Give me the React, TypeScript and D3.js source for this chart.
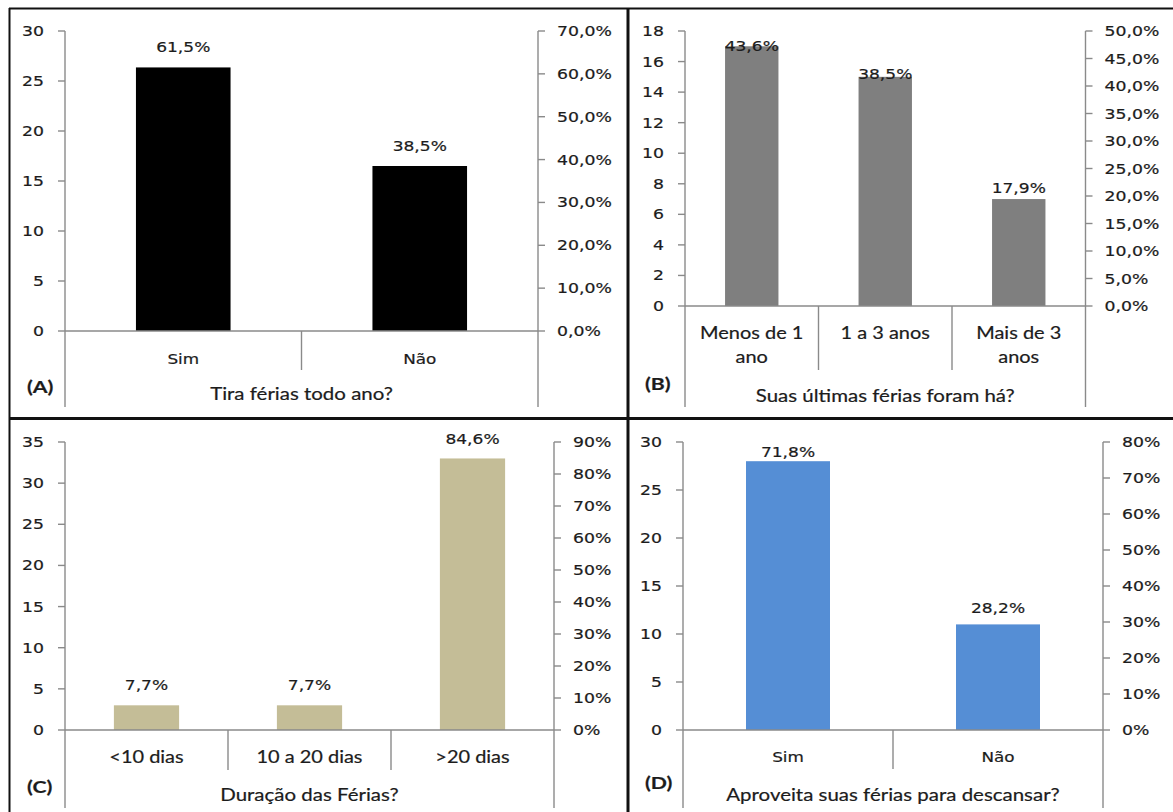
import React from "react";
import * as d3 from "d3";

// Survey results: holiday habits (n = 39)
const catsA = ["Sim", "Não"];
const countsA = [24, 15];
const pctA = [61.5, 38.5];

const catsB = [["Menos de 1", "ano"], ["1 a 3 anos"], ["Mais de 3", "anos"]];
const countsB = [17, 15, 7];
const pctB = [43.6, 38.5, 17.9];

const catsC = [["<10 dias"], ["10 a 20 dias"], [">20 dias"]];
const countsC = [3, 3, 33];
const pctC = [7.7, 7.7, 84.6];

const catsD = ["Sim", "Não"];
const countsD = [28, 11];
const pctD = [71.8, 28.2];

const ptBR = d3.formatLocale({
  decimal: ",",
  thousands: ".",
  grouping: [3],
  currency: ["R$", ""],
});

const SANS = "'DejaVu Sans', Verdana, sans-serif";
const HUMAN = "Lato, 'Open Sans', sans-serif";
const AXIS = "#8a8a8a";
const INK = "#1c1c1c";

type Panel = {
  tag: string;
  title: string;
  cats: string[][];
  counts: number[];
  pct: number[];
  barOnPct: boolean;
  color: string;
  left: number;
  right: number;
  top: number;
  bottom: number;
  axisEnd: number;
  dividerEnd: number;
  catY: number[];
  titleY: number;
  tagX: number;
  tagY: number;
  leftMax: number;
  leftStep: number;
  rightMax: number;
  rightStep: number;
  rightFmt: string;
  catFont: "sans" | "human";
};

const panels: Panel[] = [
  {
    tag: "(A)", title: "Tira férias todo ano?",
    cats: catsA.map((c) => [c]), counts: countsA, pct: pctA, barOnPct: true, color: "#000000",
    left: 65, right: 538, top: 31, bottom: 331, axisEnd: 407, dividerEnd: 370,
    catY: [364], titleY: 400, tagX: 27, tagY: 393,
    leftMax: 30, leftStep: 5, rightMax: 0.7, rightStep: 0.1, rightFmt: ".1%", catFont: "sans",
  },
  {
    tag: "(B)", title: "Suas últimas  férias foram há?",
    cats: catsB, counts: countsB, pct: pctB, barOnPct: false, color: "#7f7f7f",
    left: 685, right: 1085.5, top: 31, bottom: 306, axisEnd: 407, dividerEnd: 370,
    catY: [339, 363], titleY: 401.5, tagX: 645, tagY: 390,
    leftMax: 18, leftStep: 2, rightMax: 0.5, rightStep: 0.05, rightFmt: ".1%", catFont: "human",
  },
  {
    tag: "(C)", title: "Duração das Férias?",
    cats: catsC, counts: countsC, pct: pctC, barOnPct: false, color: "#c4bd97",
    left: 65, right: 554, top: 442, bottom: 730, axisEnd: 808, dividerEnd: 770,
    catY: [763], titleY: 801, tagX: 27, tagY: 793,
    leftMax: 35, leftStep: 5, rightMax: 0.9, rightStep: 0.1, rightFmt: ".0%", catFont: "human",
  },
  {
    tag: "(D)", title: "Aproveita suas férias para descansar?",
    cats: catsD.map((c) => [c]), counts: countsD, pct: pctD, barOnPct: false, color: "#558ed5",
    left: 683, right: 1103, top: 442, bottom: 730, axisEnd: 808, dividerEnd: 769,
    catY: [762], titleY: 801, tagX: 645, tagY: 789,
    leftMax: 30, leftStep: 5, rightMax: 0.8, rightStep: 0.1, rightFmt: ".0%", catFont: "sans",
  },
];

function Txt(props: {
  x: number; y: number; sx?: number; anchor?: string; family?: string;
  size?: number; weight?: string | number; heavy?: number; children: React.ReactNode;
}) {
  const { x, y, sx = 1, anchor = "start", family = SANS, size = 13.5, weight = "normal", heavy = 0.2, children } = props;
  return (
    <text
      transform={`translate(${x},${y}) scale(${sx},1)`}
      textAnchor={anchor}
      fontFamily={family}
      fontSize={size}
      fontWeight={weight}
      fill={INK}
      stroke={INK}
      strokeWidth={heavy}
    >
      {children}
    </text>
  );
}

function rangeTicks(max: number, step: number) {
  const n = Math.round(max / step);
  return d3.range(n + 1).map((i) => +(i * step).toFixed(6));
}

function ChartPanel({ p }: { p: Panel }) {
  const yLeft = d3.scaleLinear().domain([0, p.leftMax]).range([p.bottom, p.top]);
  const yRight = d3.scaleLinear().domain([0, p.rightMax]).range([p.bottom, p.top]);
  const x = d3
    .scaleBand<number>()
    .domain(d3.range(p.cats.length))
    .range([p.left, p.right])
    .paddingInner(0.6)
    .paddingOuter(0.3);
  const step = x.step();
  const fmtRight = ptBR.format(p.rightFmt);
  const fmtLabel = ptBR.format(".1f");
  const leftTicks = rangeTicks(p.leftMax, p.leftStep);
  const rightTicks = rangeTicks(p.rightMax, p.rightStep);
  const catFamily = p.catFont === "sans" ? SANS : HUMAN;
  const catSize = p.catFont === "sans" ? 14 : 16.5;
  const catSx = p.catFont === "sans" ? 1.2 : 1.21;

  return (
    <g>
      {/* bars */}
      {p.cats.map((_, i) => {
        const yTop = p.barOnPct ? yRight(p.pct[i] / 100) : yLeft(p.counts[i]);
        return (
          <rect
            key={"b" + i}
            x={x(i)}
            y={yTop}
            width={x.bandwidth()}
            height={p.bottom - yTop}
            fill={p.color}
          />
        );
      })}

      {/* left axis */}
      <line x1={p.left} x2={p.left} y1={p.top} y2={p.axisEnd} stroke={AXIS} strokeWidth={1.4} />
      {leftTicks.map((t) => (
        <g key={"l" + t}>
          <line x1={p.left - 7} x2={p.left} y1={yLeft(t)} y2={yLeft(t)} stroke={AXIS} strokeWidth={1.4} />
          <Txt x={p.left - 21} y={yLeft(t) + 5} anchor="end" sx={1.28}>
            {String(t)}
          </Txt>
        </g>
      ))}

      {/* right axis */}
      <line x1={p.right} x2={p.right} y1={p.top} y2={p.axisEnd} stroke={AXIS} strokeWidth={1.4} />
      {rightTicks.map((t) => (
        <g key={"r" + t}>
          <line x1={p.right} x2={p.right + 7} y1={yRight(t)} y2={yRight(t)} stroke={AXIS} strokeWidth={1.4} />
          <Txt x={p.right + 19} y={yRight(t) + 5} sx={1.28}>
            {fmtRight(t)}
          </Txt>
        </g>
      ))}

      {/* baseline */}
      <line x1={p.left} x2={p.right} y1={p.bottom} y2={p.bottom} stroke={AXIS} strokeWidth={1.4} />

      {/* category separators */}
      {p.cats.slice(1).map((_, i) => {
        const xd = p.left + (i + 1) * step;
        return (
          <line key={"d" + i} x1={xd} x2={xd} y1={p.bottom} y2={p.dividerEnd} stroke={AXIS} strokeWidth={1.4} />
        );
      })}

      {/* category labels */}
      {p.cats.map((lines, i) =>
        lines.map((ln, j) => (
          <Txt
            key={"c" + i + "-" + j}
            x={x(i)! + x.bandwidth() / 2}
            y={p.catY[j]}
            anchor="middle"
            family={catFamily}
            size={catSize}
            sx={catSx}
          >
            {ln}
          </Txt>
        ))
      )}

      {/* percentage labels */}
      {p.pct.map((v, i) => (
        <Txt key={"p" + i} x={x(i)! + x.bandwidth() / 2} y={yRight(v / 100) - 15} anchor="middle" size={14} sx={1.22}>
          {fmtLabel(v) + "%"}
        </Txt>
      ))}

      {/* axis title and panel tag */}
      <Txt x={(p.left + p.right) / 2} y={p.titleY} anchor="middle" family={HUMAN} size={16.5} sx={1.24}>
        {p.title}
      </Txt>
      <Txt x={p.tagX} y={p.tagY} family={HUMAN} size={17} weight={700} sx={1.25}>
        {p.tag}
      </Txt>
    </g>
  );
}

export default function App() {
  return (
    <svg
      width={1173}
      height={812}
      style={{ position: "absolute", left: 0, top: 0, background: "#fff" }}
    >
      <rect x={0} y={0} width={1173} height={812} fill="#fff" />
      {panels.map((p) => (
        <ChartPanel key={p.tag} p={p} />
      ))}
      {/* frame */}
      <line x1={9} x2={1173} y1={8.5} y2={8.5} stroke="#111" strokeWidth={2} />
      <line x1={9.5} x2={9.5} y1={8} y2={812} stroke="#111" strokeWidth={2} />
      <line x1={628} x2={628} y1={8} y2={812} stroke="#111" strokeWidth={3} />
      <line x1={9} x2={1173} y1={418.5} y2={418.5} stroke="#111" strokeWidth={3} />
    </svg>
  );
}
